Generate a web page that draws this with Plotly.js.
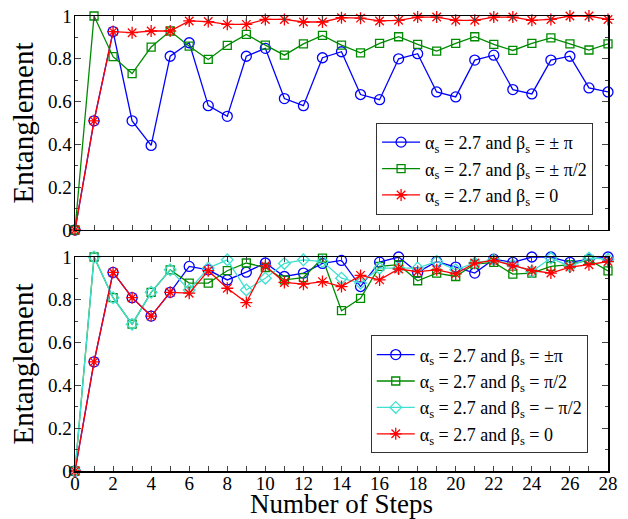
<!DOCTYPE html>
<html><head><meta charset="utf-8">
<script src="https://cdn.plot.ly/plotly-3.0.1.min.js"></script>
<style>html,body{margin:0;padding:0;background:#fff}</style>
</head><body><div id="chart" style="width:628px;height:519px"></div>
<script>
const steps = [0,1,2,3,4,5,6,7,8,9,10,11,12,13,14,15,16,17,18,19,20,21,22,23,24,25,26,27,28];

// Top panel
const topPi   = [0,0.51,0.927,0.51,0.395,0.812,0.875,0.581,0.531,0.812,0.849,0.614,0.581,0.805,0.833,0.633,0.609,0.800,0.824,0.645,0.622,0.794,0.817,0.656,0.636,0.794,0.812,0.664,0.645];
const topPi2  = [0,1.0,0.81,0.731,0.855,0.930,0.859,0.797,0.863,0.914,0.864,0.817,0.870,0.909,0.864,0.828,0.872,0.903,0.867,0.836,0.872,0.903,0.867,0.839,0.872,0.898,0.870,0.841,0.870];
const topZero = [0,0.51,0.927,0.922,0.930,0.930,0.977,0.974,0.961,0.961,0.984,0.984,0.972,0.972,0.992,0.990,0.977,0.980,0.995,0.995,0.980,0.980,0.995,0.995,0.980,0.984,1.0,1.0,0.984];

// Bottom panel
const botPi    = [0,0.51,0.928,0.81,0.724,0.835,0.956,0.94,0.893,0.929,0.972,0.909,0.925,0.970,0.984,0.862,0.976,1.0,0.928,0.979,0.953,0.925,0.99,0.975,1.0,1.0,0.975,0.99,1.0];
const botPi2   = [0,1.0,0.81,0.686,0.835,0.94,0.878,0.878,0.936,0.972,0.951,0.893,0.904,0.995,0.749,0.807,0.956,0.964,0.889,0.925,0.909,0.967,0.975,0.92,0.925,0.956,0.964,0.987,0.935];
const botMPi2  = [0,1.0,0.81,0.686,0.835,0.94,0.846,0.948,0.987,0.846,0.901,0.97,0.987,0.979,0.901,0.878,0.948,0.948,0.948,0.979,0.94,0.972,0.987,0.964,0.932,0.995,0.956,0.995,0.99];
const botZero  = [0,0.51,0.928,0.81,0.724,0.835,0.831,0.936,0.854,0.787,0.959,0.881,0.873,0.885,0.862,0.914,0.893,0.944,0.932,0.94,0.921,0.972,0.984,0.959,0.937,0.925,0.953,0.964,0.979];

const topNames = ["α<sub>s</sub> = 2.7 and β<sub>s</sub> = ± π", "α<sub>s</sub> = 2.7 and β<sub>s</sub> = ± π/2", "α<sub>s</sub> = 2.7 and β<sub>s</sub> = 0"];
const botNames = ["α<sub>s</sub> = 2.7 and β<sub>s</sub> = ±π", "α<sub>s</sub> = 2.7 and β<sub>s</sub> = π/2", "α<sub>s</sub> = 2.7 and β<sub>s</sub> = − π/2", "α<sub>s</sub> = 2.7 and β<sub>s</sub> = 0"];

const BLUE='#0000ff', GREEN='#008a00', CYAN='#40e0d0', RED='#ff0000';
function tr(y, name, color, symbol, size, xa, ya, leg){
  return {x: steps, y: y, name: name, type:'scatter', mode:'lines+markers',
    xaxis: xa, yaxis: ya, legend: leg, cliponaxis:false,
    line:{color:color, width:1.3},
    marker:{symbol:symbol, size:size, color:color, line:{color:color, width:1.3}}};
}
const data = [
  tr(topPi, topNames[0], BLUE, 'circle-open', 10, 'x', 'y', 'legend'),
  tr(topPi2, topNames[1], GREEN, 'square-open', 8, 'x', 'y', 'legend'),
  tr(topZero, topNames[2], RED, 'asterisk-open', 10, 'x', 'y', 'legend'),
  tr(botPi, botNames[0], BLUE, 'circle-open', 10, 'x2', 'y2', 'legend2'),
  tr(botPi2, botNames[1], GREEN, 'square-open', 8, 'x2', 'y2', 'legend2'),
  tr(botMPi2, botNames[2], CYAN, 'diamond-open', 9, 'x2', 'y2', 'legend2'),
  tr(botZero, botNames[3], RED, 'asterisk-open', 10, 'x2', 'y2', 'legend2'),
];
const F = '"Liberation Serif", "Times New Roman", serif';
function xax(labels, anchor){
  return {range:[0,28], anchor:anchor, dtick:2, tick0:0, ticks:'inside', ticklen:5, tickwidth:1,
    showticklabels:labels, mirror:'ticks', showline:true, linewidth:1.5, linecolor:'#000',
    showgrid:false, zeroline:false, tickfont:{family:F, size:19, color:'#000'}, ticklabelstandoff:-5,
    minor:{dtick:1, ticks:'inside', ticklen:5, tickwidth:1}};
}
function yax(domain, anchor){
  return {range:[0,1], domain:domain, anchor:anchor, dtick:0.2, tick0:0, ticks:'inside', ticklen:6, tickwidth:1,
    mirror:'ticks', showline:true, linewidth:1.5, linecolor:'#000', showgrid:false, zeroline:false,
    tickfont:{family:F, size:19, color:'#000'}, ticklabelstandoff:-2,
    title:{text:'Entanglement', font:{family:F, size:29, color:'#000'}, standoff:6},
    minor:{dtick:0.1, ticks:'inside', ticklen:3, tickwidth:1}};
}
const legStyle = {bgcolor:'#fff', bordercolor:'#333', borderwidth:1,
  font:{family:F, size:18, color:'#000'}, xanchor:'right', yanchor:'top', itemwidth:38, tracegroupgap:0};
const layout = {
  width:628, height:519, margin:{l:75, r:20, t:16, b:48},
  paper_bgcolor:'#fff', plot_bgcolor:'#fff', showlegend:true,
  xaxis: xax(false, 'y'),
  yaxis: yax([0.5297, 1], 'x'),
  xaxis2: Object.assign(xax(true, 'y2'), {title:{text:'Number of Steps', font:{family:F, size:27, color:'#000'}, standoff:6}}),
  yaxis2: yax([0, 0.4703], 'x2'),
  legend: Object.assign({}, legStyle, {x:0.972, y:0.765}),
  legend2: Object.assign({}, legStyle, {x:0.962, y:0.298}),
};
Plotly.newPlot('chart', data, layout, {displayModeBar:false, staticPlot:true});
</script></body></html>
